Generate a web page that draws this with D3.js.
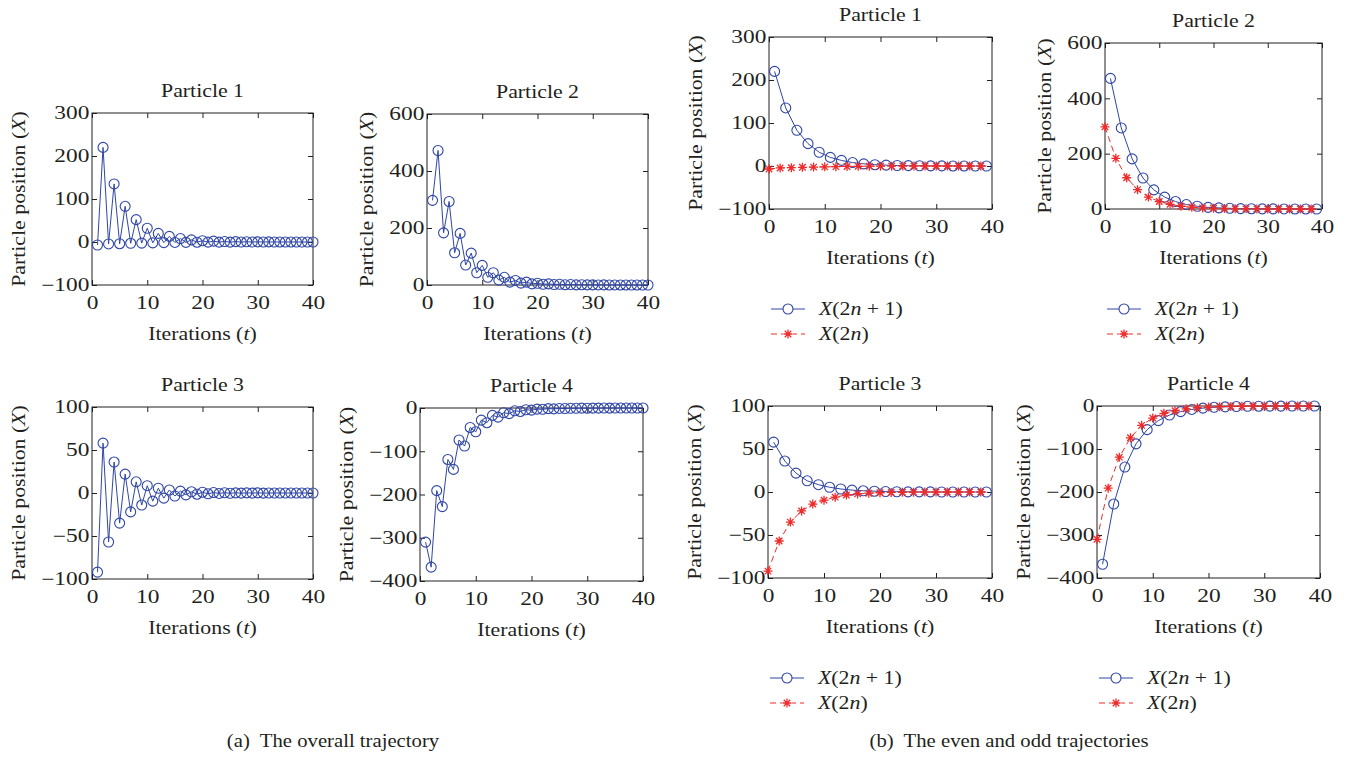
<!DOCTYPE html>
<html>
<head>
<meta charset="utf-8">
<script src="https://cdn.jsdelivr.net/npm/d3@7"></script>
<style>
  body { margin: 0; background: #fff; }
  svg text { font-family: "Liberation Serif", "Times New Roman", serif; fill: #231f20; }
  .frame { fill: none; stroke: #231f20; stroke-width: 1; }
  .axis line { stroke: #231f20; }
  .axis path { display: none; }
  .axis text { font-size: 18px; }
</style>
</head>
<body>
<div id="chart"></div>
<script>
// iteration index t (0-based); panel (a) plots at t + 1
var iterations = d3.range(0, 40)
var x_ticks = [0, 10, 20, 30, 40]

var particle1 = [-7, 220, -4.5, 135, -4, 83, -3, 52, -2.5, 32, -2, 20, -1.5, 13, -1, 8,
  -0.8, 5, -0.5, 3, -0.4, 2, -0.3, 1.2, -0.2, 0.8, -0.1, 0.5, 0, 0.3, 0, 0.2, 0, 0.1, 0, 0.1, 0, 0, 0, 0]
var particle2 = [297, 472, 183, 293, 113, 181, 70, 112, 43, 69, 27, 43, 17, 27, 10, 16,
  6.5, 10, 4, 6, 2.5, 4, 1.5, 2.5, 1, 1.5, 0.6, 1, 0.4, 0.6, 0.2, 0.4, 0.1, 0.2, 0.1, 0.1, 0, 0.1, 0, 0]
var particle3 = [-92, 58, -57, 36, -35, 22, -22, 13, -14, 8.5, -9.5, 5.5, -6, 3.5, -3.5, 2.2,
  -2.2, 1.4, -1.4, 0.9, -0.9, 0.5, -0.5, 0.3, -0.3, 0.2, -0.2, 0.1, -0.1, 0.1, -0.1, 0, 0, 0, 0, 0, 0, 0, 0, 0]
var particle4 = [-310, -368, -191, -228, -119, -142, -74, -88, -45, -55, -28, -34, -17, -21, -11, -13,
  -6.5, -8, -4, -5, -2.5, -3, -1.5, -2, -1, -1.2, -0.6, -0.7, -0.4, -0.5, -0.2, -0.3, -0.1, -0.2, -0.1, -0.1, 0, -0.1, 0, 0]

var particle_titles = ["Particle 1", "Particle 2", "Particle 3", "Particle 4"]
var y_domains = [[-100, 300], [0, 600], [-100, 100], [-400, 0]]
var y_ticks = [[-100, 0, 100, 200, 300], [0, 200, 400, 600], [-100, -50, 0, 50, 100], [-400, -300, -200, -100, 0]]
var particles = [particle1, particle2, particle3, particle4]

var BLUE = "#2f46a6"
var RED = "#ee2b2b"
var FONT = 18.5   // label font size
var SX = 1.18     // horizontal stretch, the source font is wide
var TICK_SX = 1.3

var svg = d3.select("#chart").append("svg")
  .attr("width", 1345)
  .attr("height", 758)

// axis boxes: [left, right, top, bottom]
var layout_a = [[92, 313, 113, 285], [427, 648, 114, 285], [92, 313, 407, 579], [420, 643, 408, 581]]
var layout_b = [[769, 992, 37, 209], [1105, 1322, 43, 209], [768, 992, 406, 578], [1097, 1320, 406, 578]]

function wideText(parent, x, y, rot, size, sx) {
  return parent.append("text")
    .attr("transform", "translate(" + x + "," + y + ")" + (rot ? " rotate(" + rot + ")" : "") + " scale(" + sx + ",1)")
    .style("font-size", size + "px")
}

var ParticlePanel = function(box, p, mode) {
  var _self = this
  _self.lx = box[0]
  _self.rx = box[1]
  _self.ty = box[2]
  _self.by = box[3]
  _self.p = p
  _self.mode = mode
  _self.g = svg.append("g").attr("class", "panel")

  _self.x = d3.scaleLinear().domain([0, 40]).range([_self.lx, _self.rx])
  _self.y = d3.scaleLinear().domain(y_domains[p]).range([_self.by, _self.ty])

  _self.drawAxes()
  if (mode == "a") {
    _self.drawOverall()
  } else {
    _self.drawEvenOdd()
    _self.drawLegend()
  }
}

ParticlePanel.prototype.drawAxes = function drawAxes() {
  var _self = this
  var g = _self.g

  var xAxis = g.append("g").attr("class", "axis")
    .attr("transform", "translate(0," + _self.by + ")")
    .call(d3.axisBottom(_self.x).tickValues(x_ticks).tickSizeInner(-5).tickSizeOuter(0).tickPadding(11))
  g.append("g").attr("class", "axis")
    .attr("transform", "translate(0," + _self.ty + ")")
    .call(d3.axisTop(_self.x).tickValues(x_ticks).tickSizeInner(-5).tickSizeOuter(0).tickFormat(""))
  var yAxis = g.append("g").attr("class", "axis")
    .attr("transform", "translate(" + _self.lx + ",0)")
    .call(d3.axisLeft(_self.y).tickValues(y_ticks[_self.p]).tickSizeInner(-5).tickSizeOuter(0).tickPadding(2))
  g.append("g").attr("class", "axis")
    .attr("transform", "translate(" + _self.rx + ",0)")
    .call(d3.axisRight(_self.y).tickValues(y_ticks[_self.p]).tickSizeInner(-5).tickSizeOuter(0).tickFormat(""))

  xAxis.selectAll("text").attr("transform", "scale(" + TICK_SX + ",1)")
  yAxis.selectAll("text").attr("transform", "scale(" + TICK_SX + ",1)")

  g.append("rect")
    .attr("class", "frame")
    .attr("x", _self.lx)
    .attr("y", _self.ty)
    .attr("width", _self.rx - _self.lx)
    .attr("height", _self.by - _self.ty)

  var cx = (_self.lx + _self.rx) / 2
  var cy = (_self.ty + _self.by) / 2

  wideText(g, cx, _self.ty - 16, 0, FONT, SX)
    .attr("text-anchor", "middle")
    .text(particle_titles[_self.p])

  var xl = wideText(g, cx, _self.by + 55, 0, FONT, SX)
    .attr("text-anchor", "middle")
  xl.append("tspan").text("Iterations (")
  xl.append("tspan").style("font-style", "italic").text("t")
  xl.append("tspan").text(")")

  var minX = d3.min(yAxis.selectAll("text").nodes(), function(n) {
    return n.getBoundingClientRect().left
  })
  var yl = wideText(g, minX - 16, cy, -90, FONT, SX)
    .attr("text-anchor", "middle")
  yl.append("tspan").text("Particle position (")
  yl.append("tspan").style("font-style", "italic").text("X")
  yl.append("tspan").text(")")
}

ParticlePanel.prototype.drawOverall = function drawOverall() {
  var _self = this
  var vals = particles[_self.p]
  var pts = iterations.map(function(t) { return { t: t + 1, v: vals[t] } })
  _self.drawSeries(pts, BLUE, null, "circle")
}

ParticlePanel.prototype.drawEvenOdd = function drawEvenOdd() {
  var _self = this
  var vals = particles[_self.p]
  var odd = iterations.filter(function(t) { return t % 2 == 1 }).map(function(t) { return { t: t, v: vals[t] } })
  var even = iterations.filter(function(t) { return t % 2 == 0 }).map(function(t) { return { t: t, v: vals[t] } })
  _self.drawSeries(odd, BLUE, null, "circle")
  _self.drawSeries(even, RED, "6,4", "star")
}

ParticlePanel.prototype.drawSeries = function drawSeries(pts, colour, dash, marker) {
  var _self = this
  var line = d3.line()
    .x(function(d) { return _self.x(d.t) })
    .y(function(d) { return _self.y(d.v) })

  _self.g.append("path")
    .attr("d", line(pts))
    .attr("fill", "none")
    .attr("stroke", colour)
    .attr("stroke-width", 1)
    .attr("stroke-dasharray", dash)

  var m = _self.g.selectAll(null)
    .data(pts)
    .enter()
  if (marker == "circle") {
    m.append("circle")
      .attr("cx", function(d) { return _self.x(d.t) })
      .attr("cy", function(d) { return _self.y(d.v) })
      .attr("r", 5)
      .attr("fill", "none")
      .attr("stroke", colour)
      .attr("stroke-width", 1.1)
  } else {
    m.append("path")
      .attr("transform", function(d) { return "translate(" + _self.x(d.t) + "," + _self.y(d.v) + ")" })
      .attr("d", starPath(4.5))
      .attr("fill", "none")
      .attr("stroke", colour)
      .attr("stroke-width", 1.3)
  }
}

ParticlePanel.prototype.drawLegend = function drawLegend() {
  var _self = this
  var lx = _self.lx + 2
  var rows = [
    { y: _self.by + 100, colour: BLUE, dash: null, marker: "circle", label: ["X", "(2", "n", " + 1)"] },
    { y: _self.by + 125, colour: RED, dash: "6,4", marker: "star", label: ["X", "(2", "n", ")"] }
  ]
  rows.forEach(function(r) {
    _self.g.append("line")
      .attr("x1", lx).attr("x2", lx + 34)
      .attr("y1", r.y).attr("y2", r.y)
      .attr("stroke", r.colour)
      .attr("stroke-dasharray", r.dash)
    if (r.marker == "circle") {
      _self.g.append("circle")
        .attr("cx", lx + 17).attr("cy", r.y).attr("r", 5)
        .attr("fill", "#fff").attr("stroke", r.colour).attr("stroke-width", 1.1)
    } else {
      _self.g.append("rect")
        .attr("x", lx + 12).attr("y", r.y - 2).attr("width", 10).attr("height", 4).attr("fill", "#fff")
      _self.g.append("path")
        .attr("transform", "translate(" + (lx + 17) + "," + r.y + ")")
        .attr("d", starPath(4.5))
        .attr("fill", "none").attr("stroke", r.colour).attr("stroke-width", 1.3)
    }
    var t = wideText(_self.g, lx + 48, r.y + 6, 0, FONT, SX)
      .attr("xml:space", "preserve")
    r.label.forEach(function(s, i) {
      t.append("tspan").style("font-style", (i % 2 == 0) ? "italic" : "normal").text(s)
    })
  })
}

function starPath(r) {
  var k = r * 0.72
  return "M" + (-r) + ",0L" + r + ",0M0," + (-r) + "L0," + r +
    "M" + (-k) + "," + (-k) + "L" + k + "," + k + "M" + (-k) + "," + k + "L" + k + "," + (-k)
}

for (var p = 0; p < 4; p++) {
  new ParticlePanel(layout_a[p], p, "a")
  new ParticlePanel(layout_b[p], p, "b")
}

wideText(svg, 333, 747, 0, 18.5, 1.12)
  .attr("text-anchor", "middle")
  .attr("xml:space", "preserve")
  .text("(a)  The overall trajectory")
wideText(svg, 1009, 747, 0, 18.5, 1.12)
  .attr("text-anchor", "middle")
  .attr("xml:space", "preserve")
  .text("(b)  The even and odd trajectories")
</script>
</body>
</html>
